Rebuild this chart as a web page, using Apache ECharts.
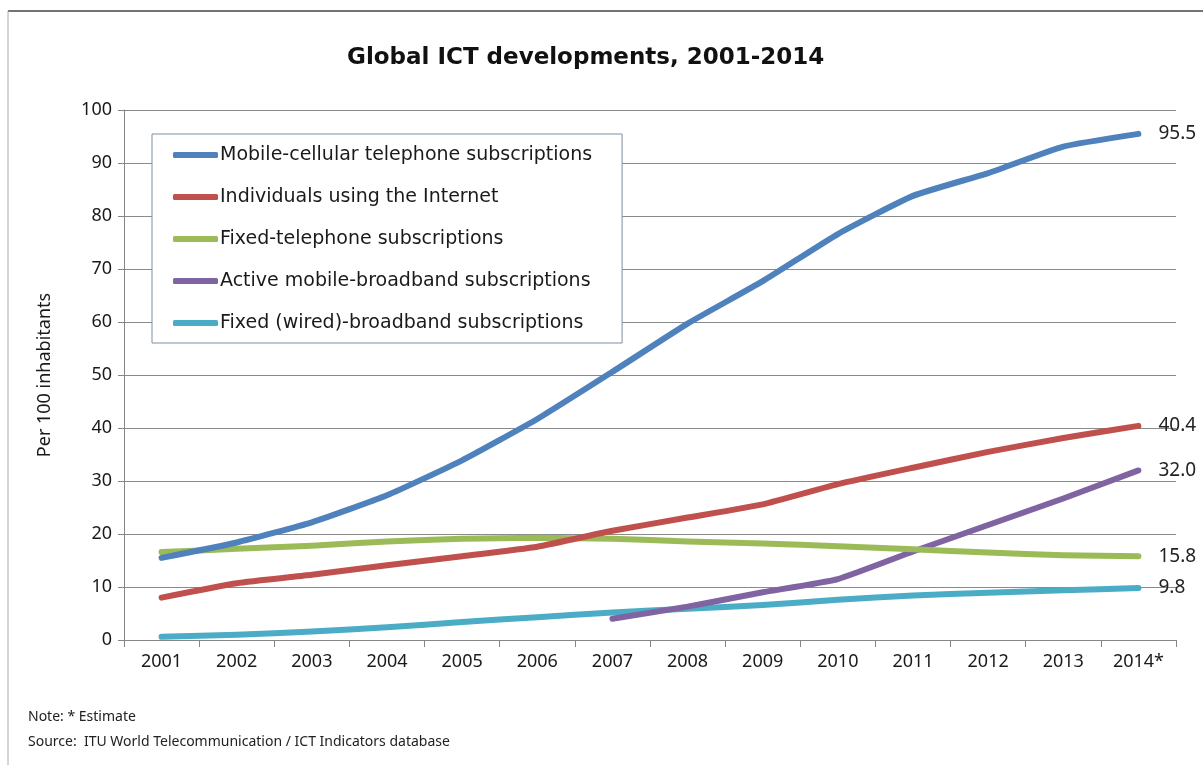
<!DOCTYPE html>
<html>
<head>
<meta charset="utf-8">
<script src="https://cdn.jsdelivr.net/npm/echarts@6/dist/echarts.min.js"></script>
<style>
  html, body { margin: 0; padding: 0; background: #fff; }
  #chart { width: 1203px; height: 765px; }
</style>
</head>
<body>
<div id="chart"></div>
<script>
// Years on the category axis (2014 is an estimate)
const years = ['2001', '2002', '2003', '2004', '2005', '2006', '2007',
               '2008', '2009', '2010', '2011', '2012', '2013', '2014*'];

// Per 100 inhabitants
const mobileCellular = [15.5, 18.4, 22.2, 27.3, 33.9, 41.7, 50.6, 59.7, 67.7, 76.6, 83.8, 88.1, 93.1, 95.5];
const internetUsers  = [8.0, 10.7, 12.3, 14.1, 15.8, 17.6, 20.6, 23.1, 25.6, 29.4, 32.5, 35.5, 38.1, 40.4];
const fixedTelephone = [16.6, 17.2, 17.8, 18.6, 19.1, 19.3, 19.1, 18.6, 18.2, 17.7, 17.1, 16.5, 16.0, 15.8];
const mobileBroadband = [null, null, null, null, null, null, 4.0, 6.3, 9.0, 11.5, 16.7, 21.7, 26.7, 32.0];
const fixedBroadband = [0.6, 1.0, 1.6, 2.4, 3.4, 4.3, 5.2, 5.9, 6.6, 7.6, 8.4, 8.9, 9.4, 9.8];

const seriesNames = [
  'Mobile-cellular telephone subscriptions',
  'Individuals using the Internet',
  'Fixed-telephone subscriptions',
  'Active mobile-broadband subscriptions',
  'Fixed (wired)-broadband subscriptions'
];
const seriesValues = [mobileCellular, internetUsers, fixedTelephone, mobileBroadband, fixedBroadband];
const seriesColors = ['#4F81BD', '#C0504D', '#9BBB59', '#8064A2', '#4BACC6'];

const yTicks = { min: 0, max: 100, interval: 10 };

const FONT = '"Noto Sans", "Open Sans", sans-serif';
const WIDE = '"DejaVu Sans", "Noto Sans", sans-serif';

const chart = echarts.init(document.getElementById('chart'), null, { renderer: 'canvas' });

const series = seriesNames.map((name, i) => ({
  name: name,
  type: 'line',
  data: seriesValues[i],
  showSymbol: false,
  symbol: 'none',
  smooth: 0.15,
  connectNulls: false,
  color: seriesColors[i],
  lineStyle: { width: 6, color: seriesColors[i], cap: 'round', join: 'round' },
  endLabel: {
    show: true,
    distance: 20,
    fontFamily: FONT,
    fontSize: 19,
    color: '#222',
    formatter: p => Number(p.value).toFixed(1)
  },
  emphasis: { disabled: true },
  z: 2 + (4 - i)
}));

chart.setOption({
  backgroundColor: '#ffffff',
  animation: false,
  title: {
    text: 'Global ICT developments, 2001-2014',
    left: 342,
    top: 42,
    textStyle: { fontFamily: WIDE, fontSize: 23, fontWeight: 'bold', color: '#111' }
  },
  legend: {
    orient: 'vertical',
    left: 152,
    top: 134,
    padding: [10, 30, 9, 21],
    itemGap: 20,
    itemWidth: 45,
    itemHeight: 6,
    icon: 'roundRect',
    borderColor: '#7d8ea3',
    borderWidth: 1,
    backgroundColor: '#fff',
    textStyle: { fontFamily: WIDE, fontSize: 19, color: '#1a1a1a', lineHeight: 22, padding: [0, 0, 0, -3] },
    data: seriesNames
  },
  grid: { left: 124, right: 27, top: 110, bottom: 125, containLabel: false },
  xAxis: {
    type: 'category',
    data: years,
    boundaryGap: true,
    axisLine: { show: true, lineStyle: { color: '#868686', width: 1 } },
    axisTick: { show: true, alignWithLabel: false, length: 7, lineStyle: { color: '#868686' } },
    axisLabel: { fontFamily: FONT, fontSize: 18, color: '#1a1a1a', margin: 13 },
    splitLine: { show: false }
  },
  yAxis: {
    type: 'value',
    min: yTicks.min,
    max: yTicks.max,
    interval: yTicks.interval,
    name: 'Per 100 inhabitants',
    nameLocation: 'middle',
    nameGap: 70,
    nameTextStyle: { fontFamily: FONT, fontSize: 18, color: '#1a1a1a' },
    axisLine: { show: true, lineStyle: { color: '#868686', width: 1 } },
    axisTick: { show: true, length: 6, lineStyle: { color: '#868686' } },
    axisLabel: { fontFamily: FONT, fontSize: 18, color: '#1a1a1a', margin: 12 },
    splitLine: { show: true, lineStyle: { color: '#8a8a8a', width: 1.2 } }
  },
  graphic: [
    { type: 'line', shape: { x1: 8, y1: 11, x2: 1203, y2: 11 }, style: { stroke: '#444', lineWidth: 1.5 }, silent: true },
    { type: 'line', shape: { x1: 8, y1: 11, x2: 8, y2: 765 }, style: { stroke: '#aaa', lineWidth: 1 }, silent: true },
    {
      type: 'text', left: 28, top: 710,
      style: { text: 'Note: * Estimate', fontFamily: FONT, fontSize: 14, fill: '#222' }
    },
    {
      type: 'text', left: 28, top: 735,
      style: { text: 'Source:  ITU World Telecommunication / ICT Indicators database', fontFamily: FONT, fontSize: 14, fill: '#222' }
    }
  ],
  series: series
});
</script>
</body>
</html>
